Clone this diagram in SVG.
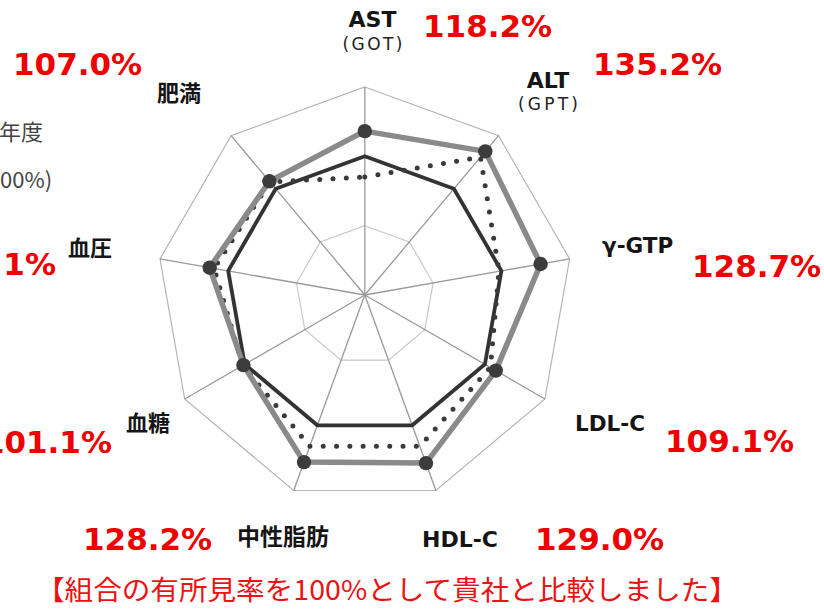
<svg xmlns="http://www.w3.org/2000/svg" width="824" height="612" viewBox="0 0 824 612">
<style>
.ring{fill:none;stroke:#b4b4b4;stroke-width:1.2}
.ring2{fill:none;stroke:#c8c8c8;stroke-width:1.2}
.spoke{stroke:#9a9a9a;stroke-width:1.3}
.ref{fill:none;stroke:#333;stroke-width:3.8;stroke-linejoin:miter}
.dot{fill:none;stroke:#3a3a3a;stroke-width:5;stroke-linecap:round;stroke-dasharray:0 13.3;stroke-linejoin:round}
.co{fill:none;stroke:#8a8a8a;stroke-width:5.5;stroke-linejoin:miter}
.mk{fill:#3c3c3c}
.lab{font-family:"DejaVu Sans","Noto Sans CJK JP",sans-serif;font-weight:bold;fill:#151515}
.jl{font-family:"Noto Sans CJK JP",sans-serif;font-weight:bold;fill:#151515;font-size:22px}
.sub{font-family:"DejaVu Sans",sans-serif;fill:#222;font-size:17px}
.val{font-family:"DejaVu Sans",sans-serif;font-weight:bold;fill:#ee0000;font-size:31px}
.leg{font-family:"Noto Sans CJK JP",sans-serif;fill:#444;font-size:22px}
</style>
<g id="grid">
<polygon class="ring2" points="364.8,225.7 409.4,241.9 433.1,283 424.8,329.7 388.5,360.1 341.1,360.1 304.8,329.7 296.5,283 320.2,241.9"/>
<polygon class="ring2" points="364.8,156.3 453.9,188.8 501.4,270.9 484.9,364.3 412.2,425.3 317.4,425.3 244.7,364.3 228.2,270.9 275.7,188.8"/>
<polygon class="ring" points="364.8,87 498.5,135.7 569.6,258.9 544.9,399 435.9,490.5 293.7,490.5 184.7,399 160,258.9 231.1,135.7"/>
<g class="spoke">
<line x1="364.8" y1="295" x2="364.8" y2="87"/>
<line x1="364.8" y1="295" x2="498.5" y2="135.7"/>
<line x1="364.8" y1="295" x2="569.6" y2="258.9"/>
<line x1="364.8" y1="295" x2="544.9" y2="399"/>
<line x1="364.8" y1="295" x2="435.9" y2="490.5"/>
<line x1="364.8" y1="295" x2="293.7" y2="490.5"/>
<line x1="364.8" y1="295" x2="184.7" y2="399"/>
<line x1="364.8" y1="295" x2="160" y2="258.9"/>
<line x1="364.8" y1="295" x2="231.1" y2="135.7"/>
</g>
</g>
<g id="connectors">
<polygon id="ref100" class="ref" points="364.8,156.3 453.9,188.8 501.4,270.9 484.9,364.3 412.2,425.3 317.4,425.3 244.7,364.3 228.2,270.9 275.7,188.8"/>
<polygon id="prev" class="dot" points="364.8,177 480.5,157.1 499,271 490.4,367.5 419.7,446.3 309.8,446.3 242.7,365.5 214.1,268.4 270,182"/>
<polygon id="company" class="co" points="364.8,131.1 485.3,151.4 540.6,264 495.8,370.6 426,463.1 304,462.1 243.4,365.1 209.7,267.7 269.4,181.3"/>
</g>
<g id="markers">
<circle class="mk" cx="364.8" cy="131.1" r="7.2"/>
<circle class="mk" cx="485.3" cy="151.4" r="7.2"/>
<circle class="mk" cx="540.6" cy="264" r="7.2"/>
<circle class="mk" cx="495.8" cy="370.6" r="7.2"/>
<circle class="mk" cx="426" cy="463.1" r="7.2"/>
<circle class="mk" cx="304" cy="462.1" r="7.2"/>
<circle class="mk" cx="243.4" cy="365.1" r="7.2"/>
<circle class="mk" cx="209.7" cy="267.7" r="7.2"/>
<circle class="mk" cx="269.4" cy="181.3" r="7.2"/>
</g>
<g id="node-ast">
<text class="lab" x="372.5" y="27" font-size="22" text-anchor="middle">AST</text>
<text class="sub" x="372.5" y="50" text-anchor="middle" textLength="60" lengthAdjust="spacing">(GOT)</text>
<text class="val" x="423" y="37">118.2%</text>
</g>
<g id="node-alt">
<text class="lab" x="548" y="88" font-size="22" text-anchor="middle">ALT</text>
<text class="sub" x="548" y="110" text-anchor="middle" textLength="60" lengthAdjust="spacing">(GPT)</text>
<text class="val" x="593" y="75">135.2%</text>
</g>
<g id="node-ggtp">
<text class="lab" x="602" y="253" font-size="21.5">γ-GTP</text>
<text class="val" x="692" y="277">128.7%</text>
</g>
<g id="node-ldl">
<text class="lab" x="575" y="431" font-size="21.5">LDL-C</text>
<text class="val" x="665" y="452">109.1%</text>
</g>
<g id="node-hdl">
<text class="lab" x="422" y="547" font-size="22">HDL-C</text>
<text class="val" x="535" y="550">129.0%</text>
</g>
<g id="node-tg">
<text class="jl" x="237" y="545" style="font-size:23px">中性脂肪</text>
<text class="val" x="83" y="550">128.2%</text>
</g>
<g id="node-glu">
<text class="jl" x="126" y="430.5">血糖</text>
<text class="val" x="112" y="453" text-anchor="end">101.1%</text>
</g>
<g id="node-bp">
<text class="jl" x="68" y="255.5">血圧</text>
<text class="val" x="56" y="275" text-anchor="end">1%</text>
</g>
<g id="node-obes">
<text class="jl" x="157" y="100.5">肥満</text>
<text class="val" x="13" y="75">107.0%</text>
</g>
<g id="legend">
<text class="leg" x="-1" y="140">年度</text>
<text class="leg" x="0" y="188">00%)</text>
</g>
<text x="36" y="600" font-family="'Noto Sans CJK JP',sans-serif" font-size="27" fill="#ee1111" textLength="702" lengthAdjust="spacingAndGlyphs">【組合の有所見率を100%として貴社と比較しました】</text>
</svg>
